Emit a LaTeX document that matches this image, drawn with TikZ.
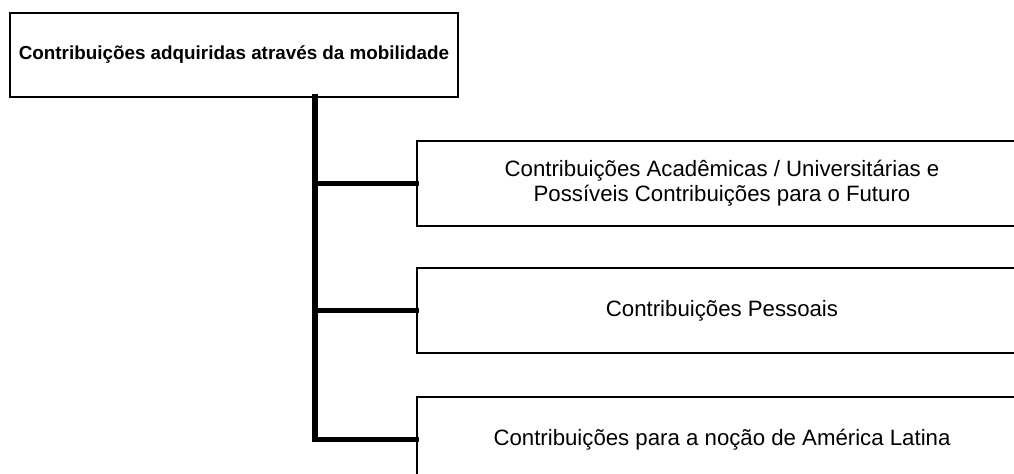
\documentclass[tikz,border=0pt]{standalone}
\usepackage{fontspec}
\setmainfont{Liberation Sans}
\usepackage{tikz}
\usetikzlibrary{positioning, calc}

\begin{document}
\begin{tikzpicture}[x=0.025cm, y=-0.025cm]
    \tikzstyle{topbox} = [rectangle, draw, line width=1pt, fill=white, minimum width=11.2cm, minimum height=2.1cm, font=\fontsize{13.4}{16}\selectfont\bfseries]
    \tikzstyle{block} = [rectangle, draw, line width=1pt, fill=white, minimum width=15.25cm, minimum height=2.125cm, align=center, font=\fontsize{15.8}{18}\selectfont]
    \tikzstyle{branch} = [line width=4pt, line cap=rect]

    \useasboundingbox (0,0) rectangle (1014,474);
    \clip (0,0) rectangle (1014,474);

    % Title
    \node[topbox] (title) at (234,55) {Contribuições adquiridas através da mobilidade};

    % Trunk
    \coordinate (trunk) at (315,97);

    % Box 1
    \node[block] (acad) at (722,183.5) {Contribuições Acadêmicas / Universitárias e\\Possíveis Contribuições para o Futuro};

    % Box 2
    \node[block] (pessoal) at (722,310.5) {Contribuições Pessoais};

    % Box 3
    \node[block] (nocao) at (722,439.5) {Contribuições para a noção de América Latina};

    \draw[branch] (trunk) |- (nocao.west);
    \draw[branch] (trunk |- acad.west) -- (acad.west);
    \draw[branch] (trunk |- pessoal.west) -- (pessoal.west);
\end{tikzpicture}
\end{document}
